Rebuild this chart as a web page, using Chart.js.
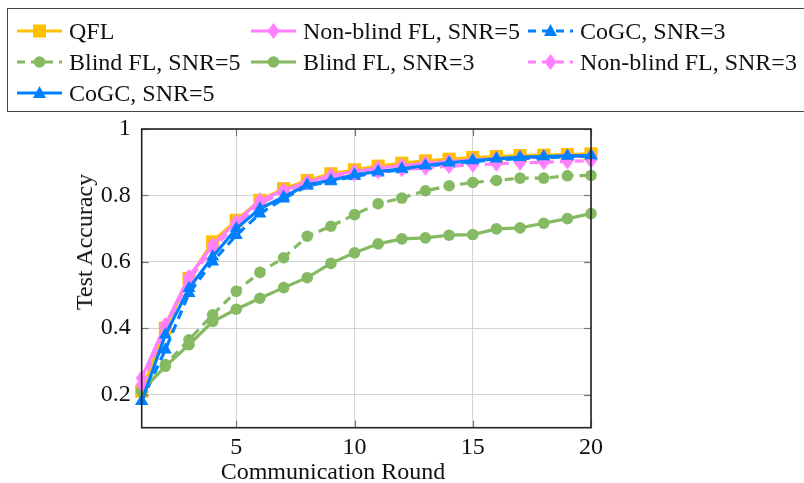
<!DOCTYPE html>
<html>
<head>
<meta charset="utf-8">
<script src="https://cdn.jsdelivr.net/npm/chart.js@4.4.1/dist/chart.umd.min.js"></script>
<style>
  html, body { margin: 0; padding: 0; background: #fff; }
  #wrap { position: relative; width: 804px; height: 483px; overflow: hidden; }
  #c { position: absolute; left: 0; top: 0; }
  #legend {
    position: absolute; left: 7px; top: 8px; width: 820px; height: 104px;
    border: 1px solid #444; box-sizing: border-box;
    font-family: "Liberation Serif", serif; font-size: 24px; color: #111;
  }
  .item { position: absolute; display: flex; align-items: center; height: 28px; white-space: nowrap; }
  .item svg { margin-right: 7px; }
  .lbl { position: absolute; font-family: "Liberation Serif", serif; font-size: 24px; color: #111; white-space: nowrap; line-height: 28px; }
</style>
</head>
<body>
<div id="wrap">
  <canvas id="c" width="804" height="483"></canvas>
  <div id="legend"></div>
  <div class="lbl" id="xlab">Communication Round</div>
  <div class="lbl" id="ylab">Test Accuracy</div>
</div>
<script>
// ---- data ----
const rounds = [1,2,3,4,5,6,7,8,9,10,11,12,13,14,15,16,17,18,19,20];
const qfl          = [0.21,0.40,0.55,0.66,0.725,0.785,0.82,0.845,0.865,0.877,0.888,0.897,0.904,0.909,0.914,0.917,0.920,0.921,0.923,0.925];
const nonBlind5    = [0.25,0.41,0.555,0.65,0.72,0.785,0.815,0.84,0.86,0.872,0.882,0.89,0.897,0.902,0.906,0.91,0.913,0.915,0.917,0.919];
const cogc3        = [0.18,0.335,0.505,0.60,0.68,0.745,0.79,0.828,0.842,0.858,0.868,0.878,0.888,0.895,0.902,0.907,0.911,0.914,0.916,0.918];
const blind5       = [0.21,0.29,0.365,0.44,0.511,0.568,0.612,0.677,0.707,0.742,0.775,0.792,0.814,0.829,0.839,0.845,0.852,0.852,0.859,0.860];
const blind3       = [0.21,0.285,0.35,0.42,0.457,0.49,0.522,0.552,0.595,0.627,0.654,0.669,0.672,0.68,0.682,0.699,0.702,0.716,0.73,0.745];
const nonBlind3    = [0.23,0.40,0.545,0.64,0.71,0.775,0.81,0.838,0.855,0.865,0.872,0.878,0.883,0.888,0.892,0.895,0.898,0.90,0.902,0.905];
const cogc5        = [0.18,0.38,0.52,0.615,0.70,0.76,0.795,0.832,0.845,0.862,0.872,0.88,0.89,0.898,0.905,0.91,0.915,0.917,0.919,0.920];
const xTicks = [5,10,15,20];
const yTicks = [0.2,0.4,0.6,0.8,1];
const seriesNames = ["QFL","Non-blind FL, SNR=5","CoGC, SNR=3","Blind FL, SNR=5","Blind FL, SNR=3","Non-blind FL, SNR=3","CoGC, SNR=5"];

// ---- styles ----
const ORANGE = '#FFC000', PINK = '#FF80FF', BLUE = '#0080FF', GREEN = '#86BA62';

function diamondCanvas(color) {
  const cv = document.createElement('canvas');
  cv.width = 12; cv.height = 16;
  const g = cv.getContext('2d');
  g.fillStyle = color;
  g.beginPath(); g.moveTo(6,0); g.lineTo(12,8); g.lineTo(6,16); g.lineTo(0,8); g.closePath(); g.fill();
  return cv;
}
const pinkDiamond = diamondCanvas(PINK);

function pts(arr) { return arr.map((v,i)=>({x: rounds[i], y: v})); }

const styles = [
  {data: qfl, color: ORANGE, dash: [], ps: 'rect', r: 9.3, order: 7},
  {data: nonBlind5, color: PINK, dash: [], ps: pinkDiamond, r: 8, order: 6},
  {data: cogc3, color: BLUE, dash: [9,6], ps: 'triangle', r: 7.5, order: 5},
  {data: blind5, color: GREEN, dash: [9,6], ps: 'circle', r: 5.8, order: 4},
  {data: blind3, color: GREEN, dash: [], ps: 'circle', r: 5.8, order: 3},
  {data: nonBlind3, color: PINK, dash: [9,6], ps: pinkDiamond, r: 8, order: 2},
  {data: cogc5, color: BLUE, dash: [], ps: 'triangle', r: 7.5, order: 1},
];

const datasets = styles.map((s,i)=>({
  label: seriesNames[i],
  data: pts(s.data),
  borderColor: s.color,
  backgroundColor: s.color,
  borderWidth: 3.2,
  borderDash: s.dash,
  pointStyle: s.ps,
  pointRadius: s.r,
  pointBorderWidth: 0,
  pointBackgroundColor: s.color,
  pointBorderColor: s.color,
  tension: 0,
  order: s.order,
  clip: false
}));

const PLOT = {left: 141.7, right: 591, top: 129, bottom: 427.7};

const innerTicks = {
  id: 'innerTicks',
  afterDatasetsDraw(chart) {
    const ctx = chart.ctx, xs = chart.scales.x, ys = chart.scales.y;
    const a = chart.chartArea;
    ctx.save();
    ctx.strokeStyle = '#777'; ctx.lineWidth = 1.2;
    xTicks.forEach(v => {
      const px = Math.round(xs.getPixelForValue(v)) + 0.5;
      ctx.beginPath(); ctx.moveTo(px, a.bottom); ctx.lineTo(px, a.bottom - 7); ctx.stroke();
      ctx.beginPath(); ctx.moveTo(px, a.top); ctx.lineTo(px, a.top + 7); ctx.stroke();
    });
    yTicks.forEach(v => {
      const py = Math.round(ys.getPixelForValue(v)) + 0.5;
      ctx.beginPath(); ctx.moveTo(a.left, py); ctx.lineTo(a.left + 7, py); ctx.stroke();
      ctx.beginPath(); ctx.moveTo(a.right, py); ctx.lineTo(a.right - 7, py); ctx.stroke();
    });
    ctx.strokeStyle = '#222'; ctx.lineWidth = 1.6;
    ctx.strokeRect(a.left, a.top, a.right - a.left, a.bottom - a.top);
    ctx.restore();
  }
};

new Chart(document.getElementById('c'), {
  type: 'line',
  data: { datasets },
  options: {
    responsive: false,
    animation: false,
    events: [],
    layout: { padding: { left: 0, right: 804 - PLOT.right, top: PLOT.top, bottom: 0 } },
    plugins: { legend: { display: false }, tooltip: { enabled: false } },
    scales: {
      x: {
        type: 'linear', min: 1, max: 20,
        afterBuildTicks: s => { s.ticks = xTicks.map(v => ({value: v})); },
        afterFit: s => { s.height = 483 - PLOT.bottom; },
        grid: { color: '#d4d4d4', lineWidth: 1, drawTicks: false },
        border: { display: false },
        ticks: { color: '#111', font: { family: 'Liberation Serif', size: 24 }, padding: 6, maxRotation: 0 }
      },
      y: {
        type: 'linear', min: 0.1, max: 1,
        afterBuildTicks: s => { s.ticks = yTicks.map(v => ({value: v})); },
        afterFit: s => { s.width = PLOT.left; },
        grid: { color: '#d4d4d4', lineWidth: 1, drawTicks: false },
        border: { display: false },
        ticks: { color: '#111', font: { family: 'Liberation Serif', size: 24 }, padding: 11,
                 callback: v => (v === 1 ? '1' : v.toFixed(1)) }
      }
    }
  },
  plugins: [innerTicks]
});

// ---- HTML legend ----
function iconSVG(s) {
  const w = 45, h = 20, cy = 10;
  const dash = s.dash.length ? 'stroke-dasharray="8,6"' : '';
  let mark = '';
  const cx = 22.5;
  if (s.ps === 'rect') mark = `<rect x="${cx-6.5}" y="${cy-6.5}" width="13" height="13" fill="${s.color}"/>`;
  else if (s.ps === 'circle') mark = `<circle cx="${cx}" cy="${cy}" r="5.8" fill="${s.color}"/>`;
  else if (s.ps === 'triangle') mark = `<polygon points="${cx},${cy-7} ${cx+6.5},${cy+5} ${cx-6.5},${cy+5}" fill="${s.color}"/>`;
  else mark = `<polygon points="${cx},${cy-8} ${cx+6},${cy} ${cx},${cy+8} ${cx-6},${cy}" fill="${s.color}"/>`;
  return `<svg width="${w}" height="${h}"><line x1="0" y1="${cy}" x2="${w}" y2="${cy}" stroke="${s.color}" stroke-width="3.2" ${dash}/>${mark}</svg>`;
}
const legend = document.getElementById('legend');
const colX = [9, 243, 520];
const rowY = [8, 39, 70];
seriesNames.forEach((name, i) => {
  const col = i % 3, row = Math.floor(i / 3);
  const d = document.createElement('div');
  d.className = 'item';
  d.style.left = colX[col] + 'px';
  d.style.top = rowY[row] + 'px';
  d.innerHTML = iconSVG(styles[i]) + '<span>' + name + '</span>';
  legend.appendChild(d);
});

const xl = document.getElementById('xlab');
xl.style.left = '333px'; xl.style.top = '471px';
xl.style.transform = 'translate(-50%,-50%)';
const yl = document.getElementById('ylab');
yl.style.left = '84px'; yl.style.top = '242px';
yl.style.transform = 'translate(-50%,-50%) rotate(-90deg)';
</script>
</body>
</html>
